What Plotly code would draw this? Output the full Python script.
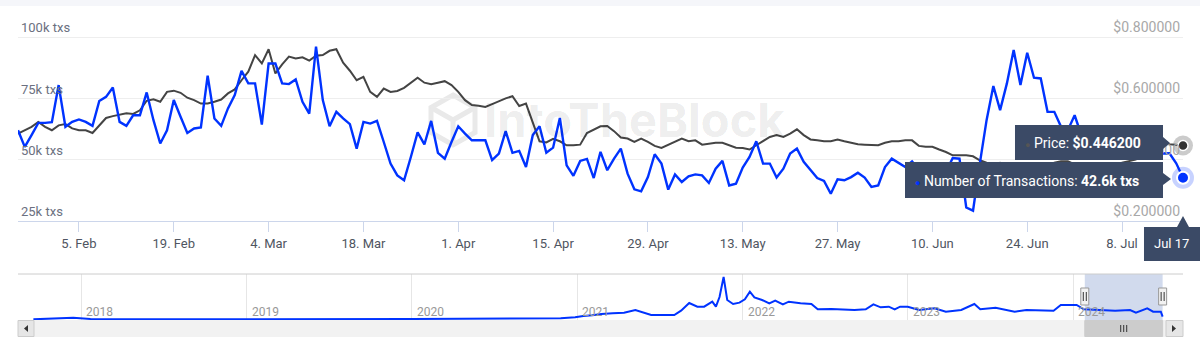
import pandas as pd
import plotly.graph_objects as go

# ---------------- data ----------------
start_date = "2024-01-27"
end_date = "2024-07-17"

transactions_k = [
    62.0, 55.2, 60.0, 65.0, 65.0, 65.3, 80.4, 63.4, 65.4, 66.4,
    65.4, 63.8, 73.9, 75.6, 79.4, 65.4, 63.8, 68.1, 68.1, 77.4,
    66.1, 56.6, 62.0, 74.3, 67.5, 60.9, 62.7, 63.1, 84.2, 66.8,
    63.8, 70.9, 76.3, 86.2, 81.1, 81.1, 64.3, 89.2, 89.2, 81.1,
    80.8, 82.7, 73.6, 68.8, 96.1, 74.3, 63.6, 69.5, 66.8, 64.5,
    54.5, 65.4, 64.7, 65.8, 57.2, 48.4, 43.6, 41.6, 51.1, 61.1,
    56.2, 65.8, 52.8, 50.4, 57.2, 63.6, 60.6, 57.9, 57.9, 57.9,
    49.8, 52.5, 61.6, 52.8, 53.6, 47.0, 60.0, 63.6, 52.8, 54.9,
    67.0, 47.7, 43.4, 49.5, 50.3, 42.5, 53.2, 45.7, 50.4, 54.5,
    44.3, 37.9, 37.1, 42.9, 52.2, 48.4, 37.8, 44.0, 40.9, 43.2,
    44.0, 43.6, 40.5, 46.3, 49.5, 39.5, 40.2, 46.8, 51.1, 57.5,
    48.4, 48.4, 42.7, 46.3, 52.5, 54.5, 49.1, 45.7, 42.5, 41.3,
    36.1, 42.0, 41.6, 42.9, 44.7, 42.7, 38.9, 39.5, 47.0, 50.4,
    48.7, 47.0, 49.3, 46.0, 42.0, 44.0, 40.0, 45.0, 50.7, 50.4,
    30.5, 29.2, 48.4, 66.1, 80.0, 70.2, 81.1, 94.7, 80.4, 93.6,
    83.4, 83.1, 69.5, 69.5, 63.4, 62.0, 68.1, 60.0, 56.0, 58.0,
    54.0, 55.0, 57.0, 53.0, 55.0, 52.0, 54.0, 56.0, 53.0, 52.5,
    52.6, 48.5, 42.6,
]

price_usd = [
    0.485, 0.496, 0.507, 0.523, 0.507, 0.496, 0.512, 0.516, 0.502, 0.496,
    0.496, 0.487, 0.512, 0.536, 0.542, 0.547, 0.551, 0.549, 0.561, 0.592,
    0.597, 0.589, 0.621, 0.625, 0.618, 0.602, 0.594, 0.583, 0.583, 0.589,
    0.596, 0.616, 0.629, 0.659, 0.687, 0.741, 0.714, 0.760, 0.681, 0.711,
    0.736, 0.730, 0.734, 0.723, 0.739, 0.741, 0.755, 0.760, 0.716, 0.690,
    0.659, 0.670, 0.621, 0.605, 0.632, 0.621, 0.624, 0.634, 0.652, 0.667,
    0.651, 0.646, 0.651, 0.656, 0.643, 0.621, 0.594, 0.578, 0.576, 0.572,
    0.581, 0.591, 0.600, 0.607, 0.575, 0.583, 0.523, 0.460, 0.456, 0.468,
    0.460, 0.447, 0.447, 0.449, 0.487, 0.499, 0.509, 0.510, 0.493, 0.472,
    0.469, 0.458, 0.469, 0.458, 0.445, 0.438, 0.449, 0.458, 0.469, 0.460,
    0.463, 0.449, 0.453, 0.455, 0.455, 0.447, 0.439, 0.438, 0.433, 0.447,
    0.460, 0.474, 0.480, 0.474, 0.485, 0.499, 0.480, 0.466, 0.463, 0.460,
    0.460, 0.466, 0.460, 0.456, 0.450, 0.449, 0.449, 0.447, 0.455, 0.460,
    0.460, 0.463, 0.463, 0.445, 0.442, 0.442, 0.433, 0.425, 0.414, 0.414,
    0.414, 0.411, 0.398, 0.390, 0.385, 0.390, 0.380, 0.375, 0.370, 0.385,
    0.380, 0.385, 0.375, 0.390, 0.395, 0.395, 0.385, 0.370, 0.350, 0.360,
    0.375, 0.365, 0.380, 0.390, 0.395, 0.400, 0.410, 0.420, 0.435, 0.455,
    0.450, 0.448, 0.4462,
]

tick_dates = ["2024-02-05", "2024-02-19", "2024-03-04", "2024-03-18", "2024-04-01",
              "2024-04-15", "2024-04-29", "2024-05-13", "2024-05-27", "2024-06-10",
              "2024-06-24", "2024-07-08"]

txs_ticks = [25, 50, 75, 100]
txs_labels = ["25k txs", "50k txs", "75k txs", "100k txs"]
price_ticks = [0.2, 0.4, 0.6, 0.8]
price_labels = ["$0.200000", "$0.400000", "$0.600000", "$0.800000"]

nav_dates = ["2017-09-17", "2017-12-14", "2018-01-21", "2018-07-01", "2019-01-01", "2020-01-01",
             "2020-11-25", "2020-12-27", "2021-01-14", "2021-02-03", "2021-02-23", "2021-03-20",
             "2021-04-14", "2021-05-09", "2021-05-26", "2021-06-13", "2021-08-03", "2021-08-18",
             "2021-09-05", "2021-09-23", "2021-10-08", "2021-10-26", "2021-11-03", "2021-11-11",
             "2021-11-20", "2021-11-28", "2021-12-11", "2021-12-25", "2022-01-06", "2022-01-17",
             "2022-01-27", "2022-02-13", "2022-03-01", "2022-03-14", "2022-03-31", "2022-04-13",
             "2022-05-09", "2022-06-02", "2022-06-16", "2022-07-16", "2022-09-05", "2022-09-30",
             "2022-10-17", "2022-11-02", "2022-11-20", "2022-12-03", "2022-12-15", "2023-01-01",
             "2023-01-26", "2023-03-01", "2023-03-26", "2023-04-29", "2023-05-28", "2023-06-10",
             "2023-07-14", "2023-08-25", "2023-09-20", "2023-10-24", "2023-11-19", "2023-12-05",
             "2024-01-09", "2024-01-25", "2024-02-28", "2024-04-03", "2024-05-06", "2024-05-19",
             "2024-06-13", "2024-06-26", "2024-07-13", "2024-07-17"]
nav_txs_k = [4, 14, 6, 4, 4, 6, 10, 16, 24, 28, 36, 40, 44, 60, 44, 30, 30, 56, 102, 80,
             80, 110, 80, 138, 258, 120, 96, 104, 124, 170, 136, 120, 100, 116, 94, 110, 100, 96, 64, 66,
             60, 64, 94, 76, 80, 64, 80, 80, 60, 70, 50, 60, 96, 64, 74, 50, 60, 60, 56, 90,
             90, 64, 60, 56, 60, 44, 70, 50, 50, 20]

year_ticks = ["2018-01-01", "2019-01-01", "2020-01-01", "2021-01-01",
              "2022-01-01", "2023-01-01", "2024-01-01"]
year_labels = ["2018", "2019", "2020", "2021", "2022", "2023", "2024"]

nav_range = ["2017-08-14", "2024-08-31"]

# ---------------- helpers ----------------
W, H = 1200, 349


def px(x):
    return x / W


def py(y):
    return 1 - y / H


def path(points):
    s = "M " + " L ".join(f"{px(x):.5f},{py(y):.5f}" for x, y in points) + " Z"
    return s


dates = pd.date_range(start_date, end_date, freq="D")
BLUE = "#0033ff"
GREY = "#444444"
TIP_BG = "#3b4a66"
FONT = "Roboto"

# plot area: ticks 25k..100k between y=221 and y=37 px; extend a few px on top
PLOT_BOTTOM, GRID_TOP, PLOT_TOP = 221, 37, 30
extra = (GRID_TOP - PLOT_TOP) / (PLOT_BOTTOM - GRID_TOP)
txs_range = [txs_ticks[0], txs_ticks[-1] + extra * (txs_ticks[-1] - txs_ticks[0])]
price_range = [price_ticks[0], price_ticks[-1] + extra * (price_ticks[-1] - price_ticks[0])]

fig = go.Figure()

fig.add_trace(go.Scatter(x=dates, y=price_usd, mode="lines", name="Price",
                         line=dict(color=GREY, width=2), xaxis="x", yaxis="y",
                         hoverinfo="skip"))
fig.add_trace(go.Scatter(x=dates, y=transactions_k, mode="lines", name="Number of Transactions",
                         line=dict(color=BLUE, width=2.4), xaxis="x", yaxis="y2",
                         hoverinfo="skip"))

fig.add_trace(go.Scatter(x=[dates[-1]], y=[price_usd[-1]], mode="markers", xaxis="x", yaxis="y",
                         marker=dict(size=20, color="rgba(68,68,68,0.28)"), cliponaxis=False,
                         hoverinfo="skip", showlegend=False))
fig.add_trace(go.Scatter(x=[dates[-1]], y=[price_usd[-1]], mode="markers", xaxis="x", yaxis="y",
                         marker=dict(size=10, color="#333333", line=dict(color="white", width=1.5)),
                         cliponaxis=False, hoverinfo="skip", showlegend=False))
fig.add_trace(go.Scatter(x=[dates[-1]], y=[transactions_k[-1]], mode="markers", xaxis="x", yaxis="y2",
                         marker=dict(size=22, color="rgba(0,51,255,0.22)"), cliponaxis=False,
                         hoverinfo="skip", showlegend=False))
fig.add_trace(go.Scatter(x=[dates[-1]], y=[transactions_k[-1]], mode="markers", xaxis="x", yaxis="y2",
                         marker=dict(size=12, color=BLUE, line=dict(color="white", width=2)),
                         cliponaxis=False, hoverinfo="skip", showlegend=False))

fig.add_trace(go.Scatter(x=nav_dates, y=nav_txs_k, mode="lines", xaxis="x2", yaxis="y3",
                         line=dict(color=BLUE, width=2), hoverinfo="skip", showlegend=False))

shapes = []
shapes.append(dict(type="rect", xref="paper", yref="paper", x0=0, x1=1, y0=py(6), y1=py(0),
                   fillcolor="#f5f6fa", line=dict(width=0), layer="below"))
# watermark icon
hexa = [(453, 95), (475, 107.5), (475, 132.5), (453, 145), (431, 132.5), (431, 107.5)]
shapes.append(dict(type="path", xref="paper", yref="paper", path=path(hexa),
                   line=dict(color="#e9e9e9", width=5), layer="below"))
for (x1, y1) in [(431, 107.5), (475, 107.5), (453, 145)]:
    shapes.append(dict(type="line", xref="paper", yref="paper", x0=px(453), y0=py(120),
                       x1=px(x1), y1=py(y1), line=dict(color="#e9e9e9", width=5), layer="below"))

shapes.append(dict(type="line", xref="paper", yref="paper", x0=px(18), x1=px(1183),
                   y0=py(274), y1=py(274), line=dict(color="#cccccc", width=1)))
shapes.append(dict(type="rect", xref="x2", yref="paper", x0=dates[0], x1=dates[-1],
                   y0=py(320), y1=py(274), fillcolor="rgba(102,133,194,0.3)",
                   line=dict(width=0), layer="between"))
shapes.append(dict(type="rect", xref="paper", yref="paper", x0=px(18), x1=px(1183),
                   y0=py(337), y1=py(320), fillcolor="#f2f2f2", line=dict(width=0)))
shapes.append(dict(type="rect", xref="x2", yref="paper", x0=dates[0], x1=dates[-1],
                   y0=py(336.5), y1=py(320.5), fillcolor="#cccccc", line=dict(color="#cccccc", width=1)))
mid = dates[len(dates) // 2]
for off in (-3, 0, 3):
    shapes.append(dict(type="line", xref="x2", yref="paper", xsizemode="pixel", xanchor=mid,
                       x0=off, x1=off, y0=py(325), y1=py(332), line=dict(color="#333333", width=1)))
for bx0, bx1 in ((18, 34), (1166, 1183)):
    shapes.append(dict(type="rect", xref="paper", yref="paper", x0=px(bx0), x1=px(bx1),
                       y0=py(336.5), y1=py(320.5), fillcolor="#e6e6e6",
                       line=dict(color="#cccccc", width=1)))
shapes.append(dict(type="path", xref="paper", yref="paper",
                   path=path([(28, 325), (28, 332), (24, 328.5)]),
                   fillcolor="#333333", line=dict(width=0)))
shapes.append(dict(type="path", xref="paper", yref="paper",
                   path=path([(1172, 325), (1172, 332), (1176, 328.5)]),
                   fillcolor="#333333", line=dict(width=0)))
for d in (dates[0], dates[-1]):
    shapes.append(dict(type="rect", xref="x2", yref="paper", xsizemode="pixel", xanchor=d,
                       x0=-4, x1=4, y0=py(305), y1=py(288), fillcolor="#f2f2f2",
                       line=dict(color="#999999", width=1)))
    for off in (-1.5, 1.5):
        shapes.append(dict(type="line", xref="x2", yref="paper", xsizemode="pixel", xanchor=d,
                           x0=off, x1=off, y0=py(292), y1=py(301),
                           line=dict(color="#333333", width=1)))

# tooltips
shapes.append(dict(type="path", xref="paper", yref="paper", layer="above",
                   path=path([(1015, 125), (1163, 125), (1163, 137), (1170, 143), (1163, 149),
                              (1163, 160), (1015, 160)]),
                   fillcolor=TIP_BG, line=dict(width=0)))
shapes.append(dict(type="path", xref="paper", yref="paper", layer="above",
                   path=path([(905, 162), (1163, 162), (1163, 173), (1171, 179), (1163, 185),
                              (1163, 198), (905, 198)]),
                   fillcolor=TIP_BG, line=dict(width=0)))
shapes.append(dict(type="path", xref="paper", yref="paper", layer="above",
                   path=path([(1144, 227), (1177, 227), (1183, 216), (1189, 227), (1200, 227),
                              (1200, 261), (1144, 261)]),
                   fillcolor=TIP_BG, line=dict(width=0)))

annotations = []
for yt, yl in zip(year_ticks, year_labels):
    annotations.append(dict(xref="x2", yref="paper", x=yt, y=py(312), text=yl, showarrow=False,
                            xanchor="left", yanchor="middle", xshift=3,
                            font=dict(family=FONT, size=12, color="#999999")))

annotations.append(dict(xref="paper", yref="paper", x=px(634), y=py(119),
                        text="<b>IntoTheBlock</b>", showarrow=False, xanchor="center",
                        yanchor="middle", font=dict(family="Inter", size=47,
                                                    color="rgba(0,0,0,0.085)")))

price_txt = f"${price_usd[-1]:.6f}"
txs_txt = f"{transactions_k[-1]}k txs"
annotations.append(dict(xref="paper", yref="paper", x=px(1023), y=py(143), xanchor="left",
                        yanchor="middle", showarrow=False,
                        text=f"<span style='font-size:9px;color:#555555'>●</span> Price: <b>{price_txt}</b>",
                        font=dict(family=FONT, size=14, color="white")))
annotations.append(dict(xref="paper", yref="paper", x=px(913), y=py(180.5), xanchor="left",
                        yanchor="middle", showarrow=False,
                        text=f"<span style='font-size:9px;color:{BLUE}'>●</span> Number of Transactions: <b>{txs_txt}</b>",
                        font=dict(family=FONT, size=14, color="white")))
annotations.append(dict(xref="paper", yref="paper", x=px(1171), y=py(243), xanchor="center",
                        yanchor="middle", showarrow=False, text=dates[-1].strftime("%b %d"),
                        font=dict(family=FONT, size=13, color="white")))

fig.update_layout(
    width=W, height=H, autosize=False,
    margin=dict(l=0, r=0, t=0, b=0, pad=0),
    paper_bgcolor="white", plot_bgcolor="white",
    showlegend=False,
    font=dict(family=FONT),
    xaxis=dict(domain=[px(18), px(1183)], anchor="y", type="date", automargin=False,
               range=[dates[0], dates[-1]], tickvals=tick_dates, tickformat="%-d. %b",
               ticks="outside", ticklen=10, tickcolor="#ccd6eb", tickwidth=1,
               showline=True, linecolor="#ccd6eb", linewidth=1, showgrid=False, zeroline=False,
               ticklabeloverflow="allow",
               tickfont=dict(family=FONT, size=13, color="#4f5561"), fixedrange=True),
    yaxis=dict(domain=[py(PLOT_BOTTOM), py(PLOT_TOP)], anchor="x", side="right", range=price_range,
               automargin=False,
               tickvals=price_ticks, ticktext=price_labels, ticklabelposition="inside top",
               ticklabeloverflow="allow",
               showgrid=True, gridcolor="#eeeeee", gridwidth=1, zeroline=False, showline=False,
               ticks="", tickfont=dict(family=FONT, size=14, color="#a8a8a8"), fixedrange=True),
    yaxis2=dict(overlaying="y", anchor="x", side="left", range=txs_range, automargin=False,
                tickvals=txs_ticks, ticktext=txs_labels, ticklabelposition="inside top",
                ticklabeloverflow="allow",
                showgrid=False, zeroline=False, showline=False, ticks="",
                tickfont=dict(family=FONT, size=13, color="#6b7080"), fixedrange=True),
    xaxis2=dict(domain=[px(18), px(1183)], anchor="y3", type="date", range=nav_range,
                automargin=False,
                tickvals=year_ticks, showticklabels=False, ticks="", showgrid=True,
                gridcolor="#e6e6e6", showline=False, zeroline=False, fixedrange=True),
    yaxis3=dict(domain=[py(320), py(274)], anchor="x2", range=[0, 276], visible=False,
                automargin=False, showgrid=False, fixedrange=True),
    shapes=shapes,
    annotations=annotations,
)

fig.write_html("out.html")
